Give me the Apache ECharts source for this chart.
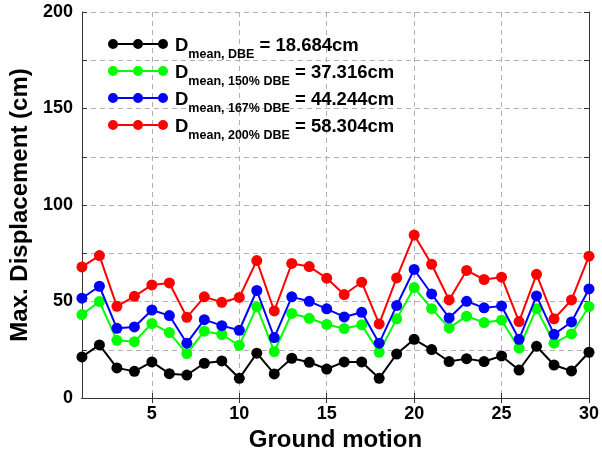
<!DOCTYPE html>
<html><head><meta charset="utf-8">
<script src="https://cdn.jsdelivr.net/npm/echarts@6/dist/echarts.min.js"></script>
<style>html,body{margin:0;padding:0;background:#fff}#c{width:602px;height:461px}</style>
</head><body><div id="c"></div>
<script>
var categories = [];
for (var i = 1; i <= 30; i++) categories.push(String(i));
var dbe    = [21.3,27.5,15.6,13.8,18.7,12.6,11.9,18.0,19.2,10.2,23.2,12.5,20.6,18.5,15.0,18.7,18.7,10.2,22.8,30.4,25.1,18.9,20.4,18.9,21.8,14.5,26.8,17.1,14.0,23.7];
var dbe150 = [43.2,50.0,29.9,29.2,38.6,33.9,23.0,34.6,32.9,27.3,47.2,24.1,43.8,41.3,38.1,36.0,37.9,23.7,41.0,57.2,46.3,36.3,42.4,39.1,40.3,25.8,46.3,28.4,33.2,47.4];
var dbe167 = [51.7,57.9,36.1,36.8,45.6,42.7,28.4,40.6,37.5,35.1,55.7,31.3,52.4,50.1,46.2,42.0,44.4,28.4,47.9,66.6,53.9,41.5,50.1,46.7,47.7,30.4,52.9,33.0,39.4,56.5];
var dbe200 = [67.9,73.8,47.5,52.7,58.6,59.6,41.8,52.4,49.6,52.1,71.2,45.1,69.7,68.1,62.1,53.6,60.0,38.4,62.2,84.4,69.3,50.8,66.1,61.4,62.6,39.6,64.1,41.0,50.8,73.5];
var seriesNames = ['DBE','150% DBE','167% DBE','200% DBE'];
var seriesMeans = ['18.684cm','37.316cm','44.244cm','58.304cm'];
var seriesColors = ['#000000','#00ff00','#0000ff','#ff0000'];
var seriesData = [dbe, dbe150, dbe167, dbe200];

var FONT = 'Liberation Sans, Arial, sans-serif';
var iconPath = 'path://M0,5a5,5 0 1,0 10,0a5,5 0 1,0 -10,0Z M25,5a5,5 0 1,0 10,0a5,5 0 1,0 -10,0Z M50,5a5,5 0 1,0 10,0a5,5 0 1,0 -10,0Z M10,4L25,4L25,6L10,6Z M35,4L50,4L50,6L35,6Z';

var chart = echarts.init(document.getElementById('c'), null, {renderer:'canvas'});
var gridLine = {show:true, lineStyle:{color:'#b0b0b0', type:[5,4], width:1}};
chart.setOption({
  backgroundColor:'#fff',
  animation:false,
  grid:{left:77, right:12, top:12, bottom:63, containLabel:false},
  legend:{
    orient:'vertical', left:103, top:31, itemWidth:60, itemHeight:10, itemGap:2,
    icon: iconPath,
    data: seriesNames.map(function(n,i){return {name:n, icon:iconPath, itemStyle:{color:seriesColors[i]}};}),
    formatter:function(name){
      var i = seriesNames.indexOf(name);
      return '{d|D}{s|mean, ' + name + '}{v| = ' + seriesMeans[i] + '}';
    },
    textStyle:{
      padding:[0,0,0,2],
      rich:{
        d:{fontSize:18.5, fontWeight:'bold', fontFamily:FONT, color:'#000', verticalAlign:'bottom', lineHeight:22},
        s:{fontSize:12.5, fontWeight:'bold', fontFamily:FONT, color:'#000', verticalAlign:'bottom', lineHeight:22, padding:[0,0,-6,0]},
        v:{fontSize:18.5, fontWeight:'bold', fontFamily:FONT, color:'#000', verticalAlign:'bottom', lineHeight:22}
      }
    }
  },
  xAxis:[{
    type:'category', data:categories, boundaryGap:false,
    name:'Ground motion', nameLocation:'middle', nameGap:26,
    nameTextStyle:{fontSize:24, fontWeight:'bold', fontFamily:FONT, color:'#000'},
    axisLine:{lineStyle:{color:'#333', width:1}},
    axisTick:{inside:true, length:5, interval:function(i){return (i+1)%5===0;}, lineStyle:{color:'#333'}},
    axisLabel:{interval:function(i){return (i+1)%5===0;}, fontSize:18, fontWeight:'bold', fontFamily:FONT, color:'#000', margin:7},
    splitLine:{show:true, interval:function(i){return (i+1)%5===0 && i!==29;}, lineStyle:{color:'#b0b0b0', type:[5,4], width:1}}
  },{
    type:'category', data:categories, boundaryGap:false, position:'top',
    axisLine:{lineStyle:{color:'#333', width:1}},
    axisTick:{inside:true, length:5, interval:function(i){return (i+1)%5===0;}, lineStyle:{color:'#333'}},
    axisLabel:{show:false}, splitLine:{show:false}
  }],
  yAxis:[{
    type:'value', min:0, max:200, interval:25,
    name:'Max. Displacement (cm)', nameLocation:'middle', nameGap:40,
    nameTextStyle:{fontSize:24, fontWeight:'bold', fontFamily:FONT, color:'#000'},
    axisLine:{show:true, lineStyle:{color:'#333', width:1}},
    axisTick:{show:true, inside:true, length:5, lineStyle:{color:'#333'}},
    axisLabel:{fontSize:18, fontWeight:'bold', fontFamily:FONT, color:'#000', margin:9,
      formatter:function(v){return v%50===0 ? String(v) : '';}},
    splitLine:gridLine
  },{
    type:'value', min:0, max:200, interval:25, position:'right',
    axisLine:{show:true, lineStyle:{color:'#333', width:1}},
    axisTick:{show:true, inside:true, length:5, lineStyle:{color:'#333'}},
    axisLabel:{show:false}, splitLine:{show:false}
  }],
  series: seriesData.map(function(d,i){
    return {
      name:seriesNames[i], type:'line', data:d, xAxisIndex:0, yAxisIndex:0,
      symbol:'circle', symbolSize:11, showSymbol:true,
      lineStyle:{color:seriesColors[i], width:2},
      itemStyle:{color:seriesColors[i]},
      z:2+i
    };
  })
});
</script></body></html>
